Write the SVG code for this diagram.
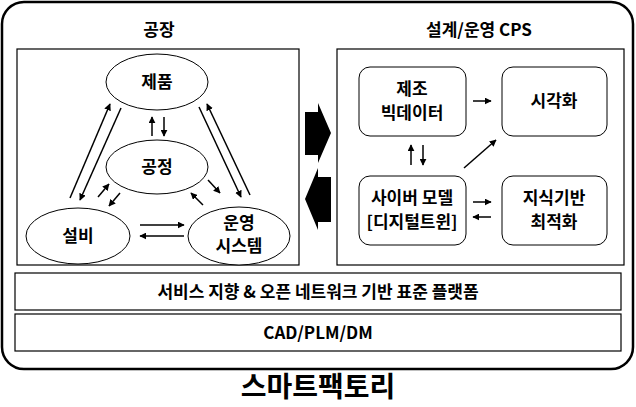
<svg xmlns="http://www.w3.org/2000/svg" width="636" height="407" viewBox="0 0 636 407">
<defs>
<marker id="ah" viewBox="0 0 10 10" refX="9" refY="5" markerWidth="7" markerHeight="7" markerUnits="userSpaceOnUse" orient="auto"><path d="M0,0 L10,5 L0,10 z" fill="#000"/></marker>
</defs>
<style>
text{font-family:"Noto Sans CJK KR","Noto Sans",sans-serif;font-weight:bold;text-anchor:middle;fill:#000}
.t{font-size:17px}
.e{fill:#fff;stroke:#000;stroke-width:1}
.b{fill:#fff;stroke:#000;stroke-width:1.2}
.c line{stroke:#000;stroke-width:1.5;marker-end:url(#ah)}
</style>
<rect width="636" height="407" fill="#fff"/>
<rect x="2" y="2" width="631" height="367" rx="22" fill="#fff" stroke="#000" stroke-width="2.5"/>
<text x="159" y="36" class="t">공장</text>
<text x="479" y="36" class="t">설계/운영 CPS</text>
<rect x="17" y="49" width="282" height="216" class="b"/>
<rect x="337" y="49" width="287" height="216" class="b"/>
<g id="n_product"><ellipse cx="157" cy="82" rx="51" ry="28" class="e"/><text x="157" y="88" class="t">제품</text></g>
<g id="n_process"><ellipse cx="157" cy="167" rx="51" ry="27" class="e"/><text x="157" y="173" class="t">공정</text></g>
<g id="n_equip"><ellipse cx="78" cy="236" rx="52" ry="28" class="e"/><text x="78" y="242" class="t">설비</text></g>
<g id="n_ops"><ellipse cx="239" cy="236" rx="51" ry="29" class="e"/><text x="239" y="229" class="t">운영</text><text x="239" y="252" class="t">시스템</text></g>
<g id="n_bigdata"><rect x="359" y="67" width="107" height="69" rx="11" class="e"/><text x="412" y="95" class="t">제조</text><text x="412" y="119" class="t">빅데이터</text></g>
<g id="n_vis"><rect x="502" y="67" width="105" height="69" rx="11" class="e"/><text x="554" y="107" class="t">시각화</text></g>
<g id="n_cyber"><rect x="359" y="176" width="107" height="69" rx="11" class="e"/><text x="412" y="204" class="t">사이버 모델</text><text x="412" y="228" class="t">[디지털트윈]</text></g>
<g id="n_know"><rect x="502" y="176" width="105" height="69" rx="11" class="e"/><text x="554" y="204" class="t">지식기반</text><text x="554" y="228" class="t">최적화</text></g>
<g id="n_platform"><rect x="15" y="273" width="606" height="37" class="b"/><text x="318" y="298" class="t">서비스 지향 &amp; 오픈 네트워크 기반 표준 플랫폼</text></g>
<g id="n_cad"><rect x="15" y="314" width="606" height="37" class="b"/><text x="318" y="339" class="t">CAD/PLM/DM</text></g>
<text x="318" y="397" font-size="28">스마트팩토리</text>
<g id="connectors" class="c">
<line x1="70" y1="198" x2="110" y2="104"/>
<line x1="121" y1="108" x2="80" y2="200"/>
<line x1="199" y1="107" x2="241" y2="197"/>
<line x1="250" y1="195" x2="207" y2="104"/>
<line x1="152" y1="136" x2="152" y2="117"/>
<line x1="164" y1="117" x2="164" y2="136"/>
<line x1="98" y1="197" x2="109" y2="184"/>
<line x1="120" y1="193" x2="109" y2="206"/>
<line x1="208" y1="180" x2="220" y2="193"/>
<line x1="203" y1="205" x2="191" y2="193"/>
<line x1="140" y1="225" x2="184" y2="225"/>
<line x1="184" y1="236" x2="140" y2="236"/>
<line x1="473" y1="101" x2="491" y2="101"/>
<line x1="464" y1="168" x2="496" y2="140"/>
<line x1="411" y1="165" x2="411" y2="145"/>
<line x1="423" y1="145" x2="423" y2="165"/>
<line x1="473" y1="202" x2="491" y2="202"/>
<line x1="491" y1="217" x2="473" y2="217"/>
</g>
<g id="bigarrows" fill="#000">
<polygon points="305,112 318,112 318,103 331,133 318,163 318,155 305,155"/>
<polygon points="331,177 318,177 318,168 305,199 318,230 318,222 331,222"/>
</g>
</svg>
